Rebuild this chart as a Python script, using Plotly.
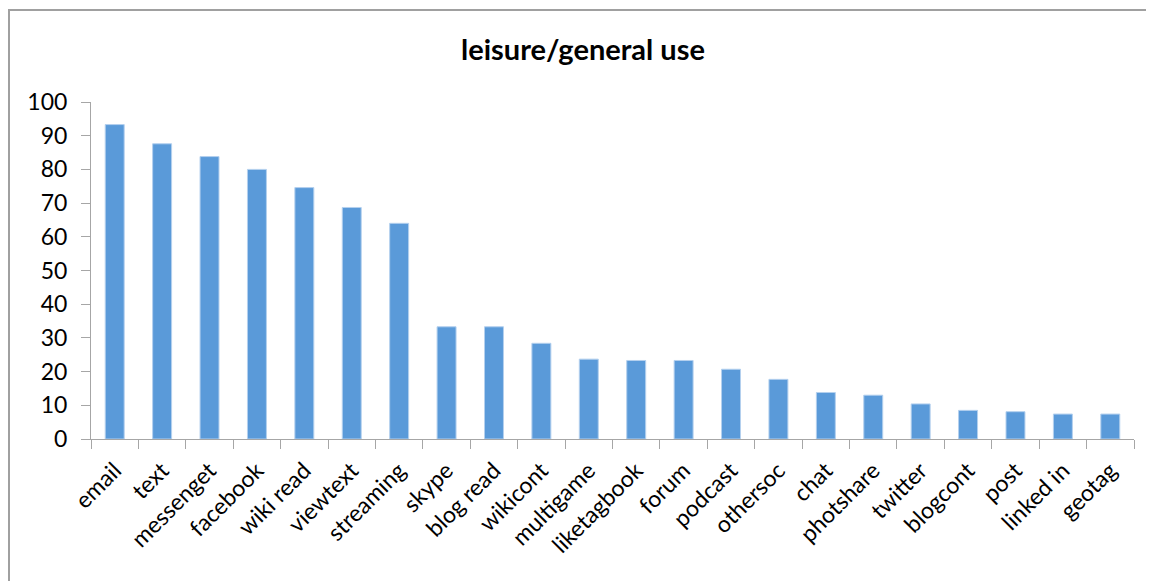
import plotly.graph_objects as go

categories = ["email", "text", "messenget", "facebook", "wiki read", "viewtext",
              "streaming", "skype", "blog read", "wikicont", "multigame",
              "liketagbook", "forum", "podcast", "othersoc", "chat", "photshare",
              "twitter", "blogcont", "post", "linked in", "geotag"]
values = [93.3, 87.6, 83.8, 80.0, 74.6, 68.7, 64.0, 33.3, 33.3, 28.4, 23.7,
          23.3, 23.3, 20.7, 17.7, 13.8, 13.0, 10.4, 8.5, 8.1, 7.4, 7.4]
y_ticks = [0, 10, 20, 30, 40, 50, 60, 70, 80, 90, 100]
title_text = "leisure/general use"

# page body has an 8px margin; size the figure so it ends at the window edge
OFF = 8
W, H = 1154 - OFF, 581 - OFF
L, R, T, B = 91 - OFF, 20, 102 - OFF, 142
pw, ph = W - L - R, H - T - B

def px_x(px):
    return (px - OFF - L) / pw

def px_y(py):
    return (H - B - (py - OFF)) / ph

FONT = "Lato, Carlito, Calibri, sans-serif"
AXIS_COL = "#a6a6a6"

fig = go.Figure(go.Bar(
    x=categories, y=values,
    marker=dict(color="#5a9ad9", line=dict(color="#b4d0ee", width=1)),
    hoverinfo="x+y",
))

fig.update_layout(
    width=W, height=H,
    margin=dict(l=L, r=R, t=T, b=B),
    paper_bgcolor="white", plot_bgcolor="white",
    bargap=0.6,
    showlegend=False,
    title=dict(text="<b>" + title_text + "</b>", x=(583 - OFF) / W, xanchor="center",
               y=1 - (50 - OFF) / H, yanchor="middle",
               font=dict(family=FONT, size=29, color="#000000")),
    font=dict(family=FONT, size=23, color="#000000"),
)
fig.update_xaxes(
    type="category", tickangle=-45, tickson="boundaries",
    ticks="outside", ticklen=9, tickcolor=AXIS_COL, tickwidth=1,
    showline=True, linecolor=AXIS_COL, linewidth=1,
    showgrid=False, zeroline=False, ticklabelstandoff=8,
    tickfont=dict(family=FONT, size=23, color="#000000"),
)
fig.update_yaxes(
    range=[0, 100], tickvals=y_ticks,
    ticks="outside", ticklen=9, tickcolor=AXIS_COL, tickwidth=1,
    showline=True, linecolor=AXIS_COL, linewidth=1,
    showgrid=False, zeroline=False, ticklabelstandoff=9,
    tickfont=dict(family=FONT, size=23, color="#000000"),
)

# chart-area border (top and left edges visible in the crop)
fig.add_shape(type="line", xref="paper", yref="paper",
              x0=px_x(8), x1=px_x(1160), y0=px_y(10), y1=px_y(10),
              line=dict(color="#a0a0a0", width=2))
fig.add_shape(type="line", xref="paper", yref="paper",
              x0=px_x(9), x1=px_x(9), y0=px_y(10), y1=px_y(590),
              line=dict(color="#a0a0a0", width=2))

fig.write_html("out.html")
